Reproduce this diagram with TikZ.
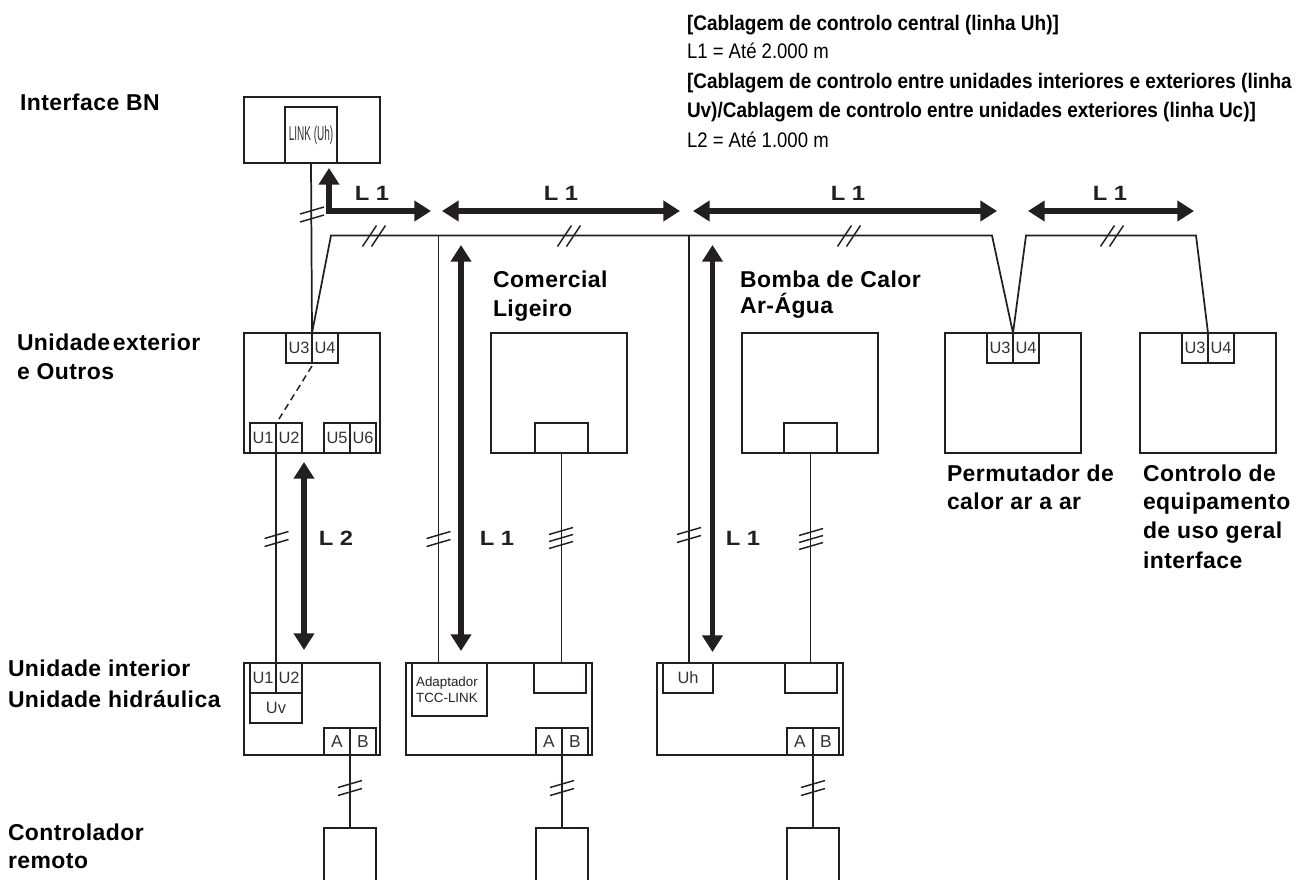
\documentclass[tikz,border=0pt]{standalone}
\usepackage{fontspec}
\setmainfont{Liberation Sans}
\newfontfamily\labfont[LetterSpace=2,Ligatures=NoCommon]{Liberation Sans}
\newfontfamily\dimfont[FakeStretch=1.15]{Liberation Sans}
\usetikzlibrary{arrows.meta}
\definecolor{ink}{HTML}{231F20}
\definecolor{soft}{HTML}{333333}
\newcommand{\bx}[7][]{%
  \pgfmathsetmacro{\bxw}{(#5-#3)*0.75}%
  \pgfmathsetmacro{\bxh}{(#6-#4)*0.75}%
  \node[boxnode,minimum width=\bxw pt,minimum height=\bxh pt,#1] (#2) at (#3,#4) {#7};}
\newcommand{\vtick}[3]{% x y list of offsets
  \foreach \o in {#3} {\draw[tickline] (#1-12,#2+\o+3.5) -- (#1+12,#2+\o-3.5);}}
\newcommand{\htick}[2]{%
  \foreach \o in {-4.5,4.5} {\draw[tickline] (#1+\o-7,#2+10.5) -- (#1+\o+7,#2-10.5);}}
\newcommand{\bl}[3]{\node[boldlab,anchor=base west] at (#1,#2) {#3};}
\tikzset{
  x=0.75pt,y=-0.75pt,
  boxnode/.style={draw=ink,line width=1.25pt,anchor=north west,inner sep=0pt,outer sep=0pt,
     text=soft,font=\fontsize{12.3}{14}\selectfont,align=center},
  wire/.style={draw=ink,line width=1.3pt},
  tickline/.style={draw=ink,line width=1.1pt},
  dimboth/.style={draw=ink,line width=4.1pt,arrows={{Triangle[length=12.5pt,width=15pt]}-{Triangle[length=12.5pt,width=15pt]}}},
  boldlab/.style={inner sep=0pt,outer sep=0pt,font=\labfont\bfseries\fontsize{17.2}{19}\selectfont,text=black},
  toplab/.style={inner sep=0pt,outer sep=0pt,anchor=base west,text=black},
  dimlab/.style={inner sep=0pt,outer sep=0pt,font=\dimfont\bfseries\fontsize{15.5}{18}\selectfont,text=ink},
}
\begin{document}
\begin{tikzpicture}
\useasboundingbox (0,0) rectangle (1308,879);
% units
\bx{bn}{244}{97}{380}{163}{}
\bx[line width=2.2pt,font=\fontsize{15}{17}\selectfont]{link}{285}{107}{337}{163}{\scalebox{0.5}[1]{LINK (Uh)}}
\bx{od}{244}{333}{380}{453}{}
\bx{utre}{286}{333}{312}{363}{U3}
\bx{ufou}{312}{333}{338}{363}{U4}
\bx{uone}{250}{423}{276}{453}{U1}
\bx{utwo}{276}{423}{302}{453}{U2}
\bx{ufiv}{324}{423}{350}{453}{U5}
\bx{usix}{350}{423}{376}{453}{U6}
\bx{com}{491}{333}{627}{453}{}
\bx{comi}{535}{423}{588}{453}{}
\bx{hp}{742}{333}{878}{453}{}
\bx{hpi}{784}{423}{837}{453}{}
\bx{pc}{945}{333}{1081}{453}{}
\bx{pctre}{987}{333}{1013}{363}{U3}
\bx{pcfou}{1013}{333}{1039}{363}{U4}
\bx{gp}{1140}{333}{1276}{453}{}
\bx{gptre}{1182}{333}{1208}{363}{U3}
\bx{gpfou}{1208}{333}{1234}{363}{U4}
% indoor row
\bx{ia}{244}{663}{380}{755}{}
\bx{iaone}{250}{663}{276}{693}{U1}
\bx{iatwo}{276}{663}{302}{693}{U2}
\bx{iauv}{250}{693}{302}{723}{Uv}
\bx[font=\fontsize{13}{14}\selectfont]{iaa}{324}{728}{350}{755}{A}
\bx[font=\fontsize{13}{14}\selectfont]{iab}{350}{728}{376}{755}{B}
\bx{ib}{406}{663}{592}{755}{}
\bx[align=left,font=\fontsize{10}{12}\selectfont,text=ink]{adp}{412}{663}{487}{716}{\raisebox{6pt}{\parbox{50pt}{Adaptador\\TCC-LINK}}}
\bx{ibu}{534}{663}{586}{693}{}
\bx[font=\fontsize{13}{14}\selectfont]{iba}{536}{728}{562}{755}{A}
\bx[font=\fontsize{13}{14}\selectfont]{ibb}{562}{728}{588}{755}{B}
\bx{ic}{657}{663}{843}{755}{}
\bx{icuh}{663}{663}{713}{693}{Uh}
\bx{icu}{785}{663}{837}{693}{}
\bx[font=\fontsize{13}{14}\selectfont]{ica}{787}{728}{813}{755}{A}
\bx[font=\fontsize{13}{14}\selectfont]{icb}{813}{728}{839}{755}{B}
% remote controllers, open at the bottom edge
\bx{rma}{324}{828}{376}{885}{}
\bx{rmb}{536}{828}{588}{885}{}
\bx{rmc}{787}{828}{839}{885}{}
% bus coordinates
\coordinate (busa) at (331,235.5);
\coordinate (busb) at (992,235.5);
\coordinate (busc) at (1026,235.5);
\coordinate (busd) at (1196,235.5);
\coordinate (bra) at (438.5,235.5);
\coordinate (brb) at (689,235.5);
\coordinate (dashs) at (312,366);
\coordinate (dashe) at (279,419);
% wires
\draw[wire] (utre.north east) -- (busa) -- (busb) -- (pctre.north east) -- (busc) -- (busd) -- (gptre.north east);
\draw[wire] (link.south) -- (utre.north east);
\draw[wire] (utre.north east) -- (utre.south east);
\draw[wire] (pctre.north east) -- (pctre.south east);
\draw[wire] (gptre.north east) -- (gptre.south east);
\draw[wire] (bra) -- (bra |- adp.north);
\draw[wire] (brb) -- (brb |- icuh.north);
\draw[wire] (uone.south east) -- (iaone.north east);
\draw[wire] (comi.south) -- (comi.south |- ibu.north);
\draw[wire] (hpi.south) -- (hpi.south |- icu.north);
\draw[wire] (iaa.south east) -- (rma.north);
\draw[wire] (iba.south east) -- (rmb.north);
\draw[wire] (ica.south east) -- (rmc.north);
\draw[draw=ink,line width=1.1pt,dash pattern=on 5pt off 3.4pt] (dashs) -- (dashe);
% ticks
\vtick{312}{214.5}{-4,4}
\vtick{276.5}{539}{-4,4}
\vtick{438.5}{539}{-4,4}
\vtick{689}{535}{-4,4}
\vtick{561}{538}{-7,0,7}
\vtick{811}{539}{-7,0,7}
\vtick{350}{788}{-4,4}
\vtick{562}{788}{-4,4}
\vtick{813}{788}{-4,4}
\htick{374}{236}
\htick{569}{236}
\htick{849}{236}
\htick{1112}{236}
% dimension arrows
\coordinate (dau) at (329,168);
\coordinate (dac) at (329,211);
\coordinate (dar) at (431,211);
\draw[dimboth] (dau) -- (dac) -- (dar);
\coordinate (dbl) at (442,211); \coordinate (dbr) at (680,211);
\draw[dimboth] (dbl) -- (dbr);
\coordinate (dcl) at (693,211); \coordinate (dcr) at (997,211);
\draw[dimboth] (dcl) -- (dcr);
\coordinate (ddl) at (1028,211); \coordinate (ddr) at (1194,211);
\draw[dimboth] (ddl) -- (ddr);
\coordinate (dvat) at (304,462); \coordinate (dvab) at (304,650);
\draw[dimboth] (dvat) -- (dvab);
\coordinate (dvbt) at (461,245); \coordinate (dvbb) at (461,651);
\draw[dimboth] (dvbt) -- (dvbb);
\coordinate (dvct) at (712.5,245); \coordinate (dvcb) at (712.5,652);
\draw[dimboth] (dvct) -- (dvcb);
% dimension labels
\node[dimlab] (la) at (372,193) {L\hspace{5pt}1};
\node[dimlab] (lb) at (561,193) {L\hspace{5pt}1};
\node[dimlab] (lc) at (848,193) {L\hspace{5pt}1};
\node[dimlab] (ld) at (1110,193) {L\hspace{5pt}1};
\node[dimlab] (le) at (336,538) {L\hspace{5pt}2};
\node[dimlab] (lf) at (497,538) {L\hspace{5pt}1};
\node[dimlab] (lg) at (743,538) {L\hspace{5pt}1};
% bold captions
\bl{20}{110}{Interface BN}
\bl{17}{350}{Unidade\hspace{2pt}exterior}
\bl{17}{379}{e Outros}
\bl{8}{676}{Unidade interior}
\bl{8}{707}{Unidade hidráulica}
\bl{8}{840}{Controlador}
\bl{8}{868}{remoto}
\bl{493}{287}{Comercial}
\bl{493}{316}{Ligeiro}
\bl{740}{287}{Bomba de Calor}
\bl{740}{313}{Ar-Água}
\bl{947}{481}{Permutador de}
\bl{947}{509}{calor ar a ar}
\bl{1143}{481}{Controlo de}
\bl{1143}{509}{equipamento}
\bl{1143}{538}{de uso geral}
\bl{1143}{568}{interface}
% top legend
\node[toplab,font=\bfseries\fontsize{15.8}{18}\selectfont] at (687,30) {\scalebox{0.9}[1]{[Cablagem de controlo central (linha Uh)]}};
\node[toplab,font=\fontsize{15.8}{18}\selectfont] at (687,58) {\scalebox{0.88}[1]{L1 = Até 2.000 m}};
\node[toplab,font=\bfseries\fontsize{15.8}{18}\selectfont] at (687,88) {\scalebox{0.9}[1]{[Cablagem de controlo entre unidades interiores e exteriores (linha}};
\node[toplab,font=\bfseries\fontsize{15.8}{18}\selectfont] at (687,117) {\scalebox{0.9}[1]{Uv)/Cablagem de controlo entre unidades exteriores (linha Uc)]}};
\node[toplab,font=\fontsize{15.8}{18}\selectfont] at (687,147) {\scalebox{0.88}[1]{L2 = Até 1.000 m}};
\end{tikzpicture}
\end{document}
